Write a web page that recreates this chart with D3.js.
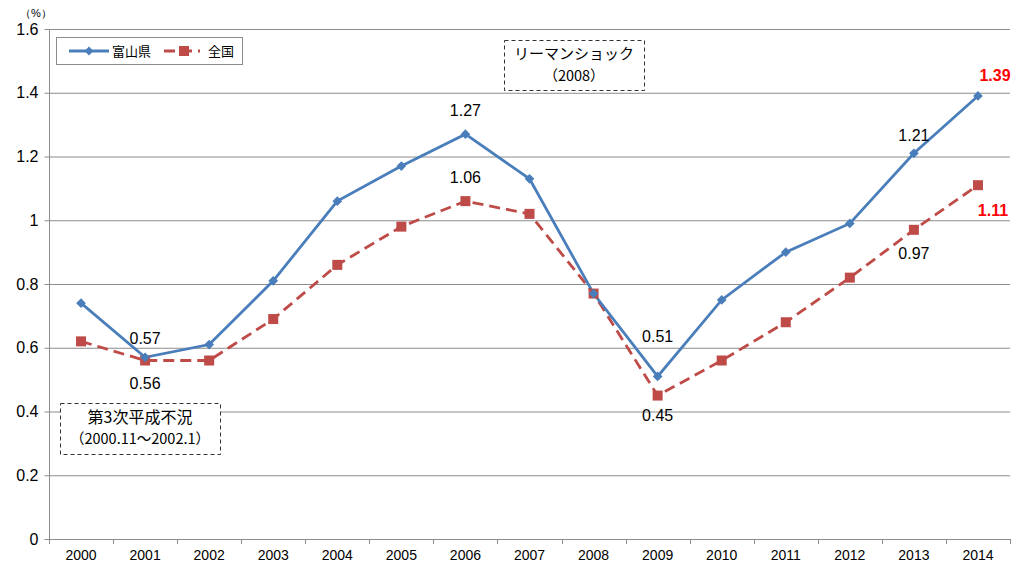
<!DOCTYPE html>
<html><head><meta charset="utf-8">
<script src="https://cdn.jsdelivr.net/npm/d3@7"></script>
<style>body{margin:0;background:#fff}svg{display:block;font-family:"Liberation Sans",Arial,sans-serif}</style>
</head><body><svg id="c" width="1013" height="569"></svg>
<script>
const years = ["2000","2001","2002","2003","2004","2005","2006","2007","2008","2009","2010","2011","2012","2013","2014"];
const toyama = [0.74,0.57,0.61,0.81,1.06,1.17,1.27,1.13,0.77,0.51,0.75,0.90,0.99,1.21,1.39];
const national = [0.62,0.56,0.56,0.69,0.86,0.98,1.06,1.02,0.77,0.45,0.56,0.68,0.82,0.97,1.11];
const yTicks = [0,0.2,0.4,0.6,0.8,1,1.2,1.4,1.6];
const seriesNames = ["富山県","全国"];
const labelsT = [[1,"0.57",0,-19],[6,"1.27",0,-24],[9,"0.51",0,-40],[13,"1.21",0,-18],[14,"1.39",17,-21]];
const labelsN = [[1,"0.56",0,23],[6,"1.06",0,-24],[9,"0.45",0,20],[13,"0.97",0,24],[14,"1.11",15,25]];

const svg = d3.select("#c");
const L=49,R=1010,T=29,B=539;
const x = d3.scaleBand().domain(years).range([L,R]);
const y = d3.scaleLinear().domain([0,1.6]).range([B,T]);
const blue="#4A7EBB", red="#BE4B48";

svg.append("g").selectAll("line").data(yTicks.filter(d=>d>0)).join("line")
 .attr("x1",L).attr("x2",R).attr("y1",d=>y(d)+0.5).attr("y2",d=>y(d)+0.5)
 .attr("stroke","#8c8c8c").attr("stroke-width",1);

const ya = svg.append("g").attr("transform",`translate(${L+0.5},0)`)
 .call(d3.axisLeft(y).tickValues(yTicks).tickSize(5).tickPadding(6).tickFormat(d=>String(d)));
ya.select(".domain").attr("stroke","#8c8c8c").attr("d",`M0,${T}V${B}`);
ya.selectAll(".tick line").attr("stroke","#8c8c8c");
ya.selectAll("text").attr("font-size",16).attr("fill","#000").attr("font-family","Liberation Sans, Arial");

const xa = svg.append("g").attr("transform",`translate(0,${B+0.5})`)
 .call(d3.axisBottom(x).tickSize(0).tickPadding(11));
xa.select(".domain").attr("stroke","#8c8c8c").attr("d",`M${L},0H${R}`);
xa.selectAll("text").attr("font-size",14).attr("fill","#000").attr("font-family","Liberation Sans, Arial");
svg.append("g").selectAll("line").data(d3.range(years.length+1)).join("line")
 .attr("x1",i=>Math.round(L+i*x.step())+0.5).attr("x2",i=>Math.round(L+i*x.step())+0.5)
 .attr("y1",B).attr("y2",B+5).attr("stroke","#8c8c8c");

svg.append("text").attr("x",36).attr("y",17).attr("font-size",11).attr("text-anchor","middle").text("（%）");

const cx = i=>x(years[i])+x.bandwidth()/2;
const line = d3.line().x((d,i)=>cx(i)).y(d=>y(d));

svg.append("path").datum(national).attr("d",line).attr("fill","none").attr("stroke",red)
 .attr("stroke-width",2.8).attr("stroke-dasharray","11,6");
svg.append("path").datum(toyama).attr("d",line).attr("fill","none").attr("stroke",blue)
 .attr("stroke-width",2.8);

svg.append("g").selectAll("rect").data(national).join("rect")
 .attr("x",(d,i)=>cx(i)-5).attr("y",d=>y(d)-5).attr("width",10).attr("height",10).attr("fill",red);
svg.append("g").selectAll("path").data(toyama).join("path")
 .attr("d",d3.symbol(d3.symbolDiamond2,60)).attr("transform",(d,i)=>`translate(${cx(i)},${y(d)})`).attr("fill",blue);

function labels(arr,vals){
 svg.append("g").selectAll("text").data(arr).join("text")
  .attr("x",d=>cx(d[0])+d[2]).attr("y",d=>y(vals[d[0]])+d[3]).attr("dy","0.35em")
  .attr("text-anchor","middle").attr("font-size",16)
  .attr("fill",d=>d[0]===14?"#FF0000":"#000").attr("font-weight",d=>d[0]===14?"bold":"normal")
  .text(d=>d[1]);
}
labels(labelsT,toyama);
labels(labelsN,national);

const lg = svg.append("g");
lg.append("rect").attr("x",56.5).attr("y",37.5).attr("width",186).attr("height",27).attr("fill","#fff").attr("stroke","#8c8c8c");
lg.append("line").attr("x1",69).attr("x2",109).attr("y1",51).attr("y2",51).attr("stroke",blue).attr("stroke-width",2.8);
lg.append("path").attr("d",d3.symbol(d3.symbolDiamond2,50)).attr("transform","translate(89,51)").attr("fill",blue);
lg.append("text").attr("x",112).attr("y",51).attr("dy","0.35em").attr("font-size",13).attr("font-family","Noto Sans CJK JP").text(seriesNames[0]);
lg.append("line").attr("x1",164).attr("x2",200).attr("y1",51).attr("y2",51).attr("stroke",red).attr("stroke-width",2.8).attr("stroke-dasharray","11,6");
lg.append("rect").attr("x",179).attr("y",46).attr("width",10).attr("height",10).attr("fill",red);
lg.append("text").attr("x",208).attr("y",51).attr("dy","0.35em").attr("font-size",13).attr("font-family","Noto Sans CJK JP").text(seriesNames[1]);

function box(x0,y0,w,h,l1,l2,f1,f2){
 const g=svg.append("g");
 g.append("rect").attr("x",x0+0.5).attr("y",y0+0.5).attr("width",w).attr("height",h).attr("fill","#fff")
  .attr("stroke","#333").attr("stroke-dasharray","4,3");
 g.append("text").attr("x",x0+w/2).attr("y",y0+14).attr("dy","0.35em").attr("text-anchor","middle")
  .attr("font-size",f1).attr("font-family","Noto Sans CJK JP").text(l1);
 g.append("text").attr("x",x0+w/2).attr("y",y0+36).attr("dy","0.35em").attr("text-anchor","middle")
  .attr("font-size",f2).attr("font-family","Noto Sans CJK JP").text(l2);
}
box(504,40,140,50,"リーマンショック","（2008）",15,14.5);
box(60,403,160,51,"第3次平成不況","（2000.11～2002.1）",16,14.5);
</script></body></html>
